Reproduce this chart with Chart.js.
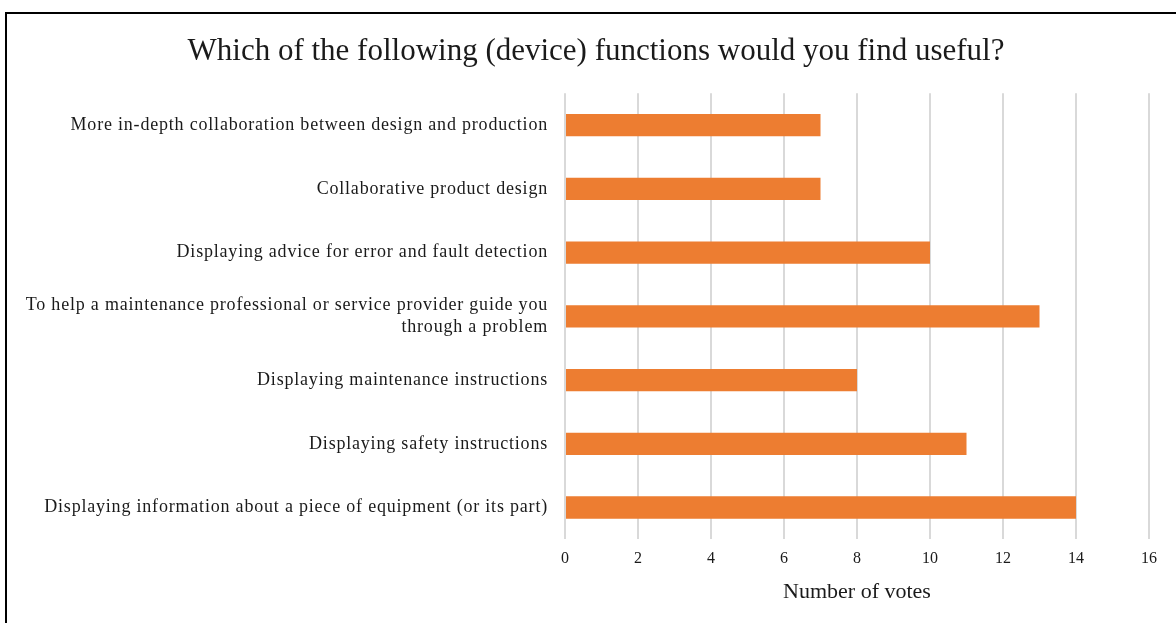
<!DOCTYPE html>
<html lang="en">
<head>
    <meta charset="UTF-8">
    <title>Device functions</title>
    <script src="https://cdn.jsdelivr.net/npm/chart.js"></script>
    <style>
        body { margin: 0; background: #fff; }
        #wrap { position: relative; width: 1176px; height: 623px; }
        #frame { position: absolute; left: 5px; top: 12px; width: 1300px; height: 700px;
                 border: 2px solid #000; box-sizing: border-box; pointer-events: none; }
    </style>
</head>
<body>
<div id="wrap">
    <canvas id="chart" width="1176" height="623"></canvas>
    <div id="frame"></div>
</div>
<script>
    // categories top to bottom
    const functions = [
        'More in-depth collaboration between design and production',
        'Collaborative product design',
        'Displaying advice for error and fault detection',
        ['To help a maintenance professional or service provider guide you', 'through a problem'],
        'Displaying maintenance instructions',
        'Displaying safety instructions',
        'Displaying information about a piece of equipment (or its part)'
    ];
    const votes = [7, 7, 10, 13, 8, 11, 14];
    const xTicks = [0, 2, 4, 6, 8, 10, 12, 14, 16];

    const serif = "'Liberation Serif', 'Times New Roman', serif";
    const textColor = '#1a1a1a';

    // the category labels are spaced a bit wider, like in the original (drawn after the bars)
    const wideLabels = {
        id: 'wideLabels',
        afterLayout: chart => { if (chart.titleBlock) chart.titleBlock.left = 43; }, // title sits a little right of centre
        afterDatasetsDraw: chart => { chart.ctx.letterSpacing = '0.8px'; },
        afterDraw: chart => { chart.ctx.letterSpacing = '0px'; }
    };

    new Chart(document.getElementById('chart'), {
        type: 'bar',
        data: {
            labels: functions,
            datasets: [{
                label: 'Number of votes',
                data: votes,
                backgroundColor: '#ED7D31',
                barPercentage: 0.7,
                categoryPercentage: 0.5
            }]
        },
        plugins: [wideLabels],
        options: {
            indexAxis: 'y',
            responsive: false,
            animation: false,
            layout: { padding: { top: 20, right: 27, bottom: 0, left: 0 } },
            plugins: {
                legend: { display: false },
                tooltip: { enabled: false },
                title: {
                    display: true,
                    text: 'Which of the following (device) functions would you find useful?',
                    color: textColor,
                    font: { family: serif, size: 31, weight: 'normal' },
                    padding: { top: 13, bottom: 23 }
                }
            },
            scales: {
                x: {
                    min: 0,
                    max: 16,
                    afterBuildTicks: scale => { scale.ticks = xTicks.map(v => ({ value: v })); },
                    grid: { color: '#d9d9d9', lineWidth: 2, drawTicks: false },
                    border: { display: false },
                    ticks: { color: textColor, font: { family: serif, size: 16 }, padding: 10 },
                    title: {
                        display: true,
                        text: 'Number of votes',
                        color: textColor,
                        font: { family: serif, size: 22 },
                        padding: { top: 0, bottom: 18 }
                    }
                },
                y: {
                    afterFit: scale => { scale.width = 565; },
                    grid: { display: false, drawTicks: false },
                    border: { display: false },
                    ticks: { color: textColor, font: { family: serif, size: 18 }, padding: 17, autoSkip: false, z: 1 }
                }
            }
        }
    });
</script>
</body>
</html>
